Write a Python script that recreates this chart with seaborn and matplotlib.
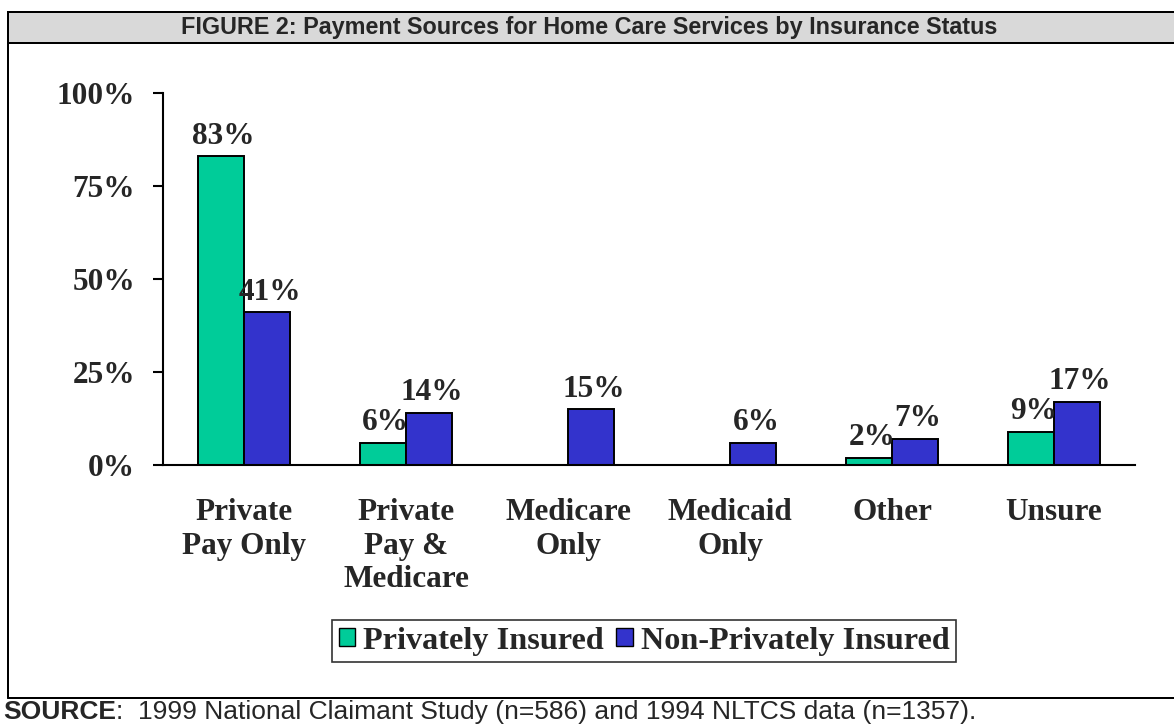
import numpy as np
import pandas as pd
import matplotlib
matplotlib.use("Agg")
import matplotlib.pyplot as plt
from matplotlib.patches import Rectangle, Patch
from matplotlib.lines import Line2D
import seaborn as sns

# ---- data ----
categories = ["Private\nPay Only", "Private\nPay &\nMedicare", "Medicare\nOnly",
              "Medicaid\nOnly", "Other", "Unsure"]
privately_insured = [83, 6, 0, 0, 2, 9]
non_privately_insured = [41, 14, 15, 6, 7, 17]
series_names = ["Privately Insured", "Non-Privately Insured"]
y_ticks = [0, 25, 50, 75, 100]
y_tick_labels = ["0%", "25%", "50%", "75%", "100%"]
title = "FIGURE 2: Payment Sources for Home Care Services by Insurance Status"
source_bold = "SOURCE"
source_rest = ":  1999 National Claimant Study (n=586) and 1994 NLTCS data (n=1357)."

colors = ["#00CC99", "#3333CC"]

df = pd.DataFrame({
    "category": categories * 2,
    "value": privately_insured + non_privately_insured,
    "group": [series_names[0]] * len(categories) + [series_names[1]] * len(categories),
})

sns.set_style("white")
plt.rcParams["font.family"] = ["Liberation Serif", "DejaVu Serif"]

W, H = 1174, 726
fig = plt.figure(figsize=(W / 100, H / 100), dpi=100)

def fx(px):
    return px / W

def fy(py):
    return 1 - py / H

ax = fig.add_axes([fx(163), fy(465), fx(1135) - fx(163), fy(93) - fy(465)])

sns.barplot(data=df, x="category", y="value", hue="group", palette=colors,
            width=0.57, edgecolor="black", linewidth=1.4, ax=ax, legend=False,
            saturation=1)

FS = 22.5

# hide zero-height bars and add labels
for cont in ax.containers:
    for bar, val in zip(cont.patches, cont.datavalues):
        if val <= 0:
            bar.set_visible(False)
            continue
        ax.annotate(f"{int(val)}%", (bar.get_x() + bar.get_width() / 2, val),
                    xytext=(2, 4), textcoords="offset points",
                    ha="center", va="bottom", fontsize=FS, fontweight="bold")

ax.set_xlim(-0.5, len(categories) - 0.5)
ax.set_ylim(0, 100)
ax.set_yticks(y_ticks)
ax.set_yticklabels(y_tick_labels, fontsize=FS, fontweight="bold")
ax.set_xlabel("")
ax.set_ylabel("")
for lab in ax.get_xticklabels():
    lab.set_fontsize(FS)
    lab.set_fontweight("bold")
ax.tick_params(axis="x", which="major", length=0, pad=24)
ax.set_xticks(np.arange(-0.5, len(categories), 1.0), minor=True)
ax.tick_params(axis="x", which="minor", length=9, width=1.5, direction="out", color="black")
ax.tick_params(axis="y", which="major", length=7, width=1.5, direction="out", color="black", pad=13, left=True)
for s in ["top", "right"]:
    ax.spines[s].set_visible(False)
for s in ["left", "bottom"]:
    ax.spines[s].set_color("black")
    ax.spines[s].set_linewidth(1.5)
ax.grid(False)

# legend
handles = [Patch(facecolor=c, edgecolor="black", linewidth=1.0) for c in colors]
leg = fig.legend(handles, series_names, loc="center", bbox_to_anchor=(fx(644), fy(641)),
                 ncol=2, frameon=True, fancybox=False, edgecolor="black",
                 prop={"family": ["Liberation Serif"], "weight": "bold", "size": 23.2},
                 handlelength=0.5, handleheight=0.5, handletextpad=0.25,
                 columnspacing=0.4, borderpad=0.2, borderaxespad=0)
leg.get_frame().set_linewidth(1.2)

# frame & title bar
lw = 2.0 * 72 / 100
fig.add_artist(Rectangle((fx(8), fy(43)), fx(1180) - fx(8), fy(12) - fy(43),
                         transform=fig.transFigure, facecolor="#D9D9D9",
                         edgecolor="black", linewidth=lw, clip_on=False))
fig.add_artist(Line2D([fx(8), fx(8)], [fy(43), fy(698)], transform=fig.transFigure,
                      color="black", linewidth=lw))
fig.add_artist(Line2D([fx(8), fx(1180)], [fy(698), fy(698)], transform=fig.transFigure,
                      color="black", linewidth=lw))
fig.text(fx(589), fy(27.5), title, ha="center", va="center",
         family=["Liberation Sans"], fontweight="bold", fontsize=16.8)

# source line
t1 = fig.text(fx(3), fy(712), source_bold, ha="left", va="center",
              family=["Liberation Sans"], fontweight="bold", fontsize=19)
fig.canvas.draw()
bb = t1.get_window_extent()
fig.text(bb.x1 / W, fy(712), source_rest, ha="left", va="center",
         family=["Liberation Sans"], fontsize=19)

fig.savefig("out.png", dpi=100)
